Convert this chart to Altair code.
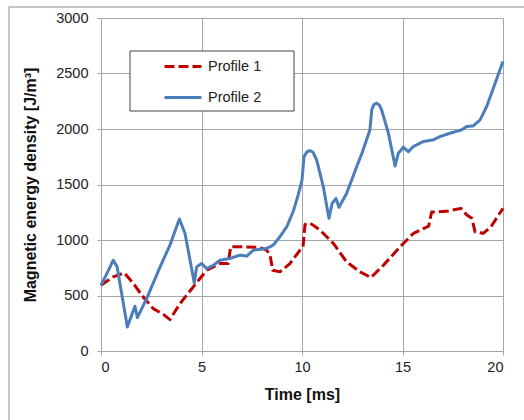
import altair as alt
import pandas as pd

# Profile 1 (red dashed)
t1 = [0, 0.61, 1.16, 1.61, 2.1, 2.6, 3.1, 3.43, 3.93, 4.59, 5.26, 5.92, 6.33, 6.45, 6.92, 7.91,
      8.24, 8.41, 8.54, 8.9, 9.4, 9.9, 10.05, 10.15, 10.4, 10.9, 11.56, 12.22, 12.89, 13.43,
      14.05, 14.88, 15.54, 16.3, 16.45, 17.19, 17.91, 18.2, 18.45, 18.61, 19.02, 19.4, 20]
v1 = [593, 668, 704, 608, 487, 382, 330, 283, 427, 578, 728, 788, 788, 939, 939, 933,
      909, 864, 728, 713, 788, 909, 939, 1140, 1152, 1089, 969, 803, 713, 662,
      773, 939, 1059, 1125, 1252, 1258, 1285, 1225, 1195, 1074, 1060, 1119, 1285]

# Profile 2 (blue solid)
t2 = [0, 0.3, 0.61, 0.8, 1.31, 1.69, 1.81, 2.27, 2.94, 3.43, 3.9, 4.18, 4.64, 4.76, 5.0, 5.26, 5.6,
      5.92, 6.42, 6.92, 7.25, 7.58, 8.24, 8.57, 8.9, 9.24, 9.57, 9.8, 10.0, 10.1, 10.25, 10.4, 10.55,
      10.73, 11.06, 11.34, 11.5, 11.69, 11.84, 12.22, 12.72, 13.0, 13.38, 13.47, 13.58, 13.71,
      13.85, 13.96, 14.3, 14.63, 14.79, 15.04, 15.29, 15.54, 16.03, 16.53, 16.87, 17.36, 17.94,
      18.19, 18.52, 18.86, 19.19, 19.52, 20]
v2 = [593, 700, 818, 760, 217, 403, 301, 472, 758, 954, 1189, 1059, 614, 758, 788, 743, 773,
      818, 834, 864, 855, 909, 924, 954, 1029, 1119, 1260, 1400, 1540, 1751, 1795, 1805, 1790,
      1721, 1481, 1195, 1330, 1375, 1294, 1420, 1660, 1790, 1992, 2173, 2220, 2233,
      2215, 2173, 1962, 1667, 1781, 1836, 1796, 1842, 1887, 1902, 1932, 1962, 1992,
      2022, 2028, 2082, 2203, 2368, 2609]

series = ["Profile 1", "Profile 2"]
colors = ["#C00000", "#4A7EBB"]

df = pd.DataFrame({
    "t": t1 + t2,
    "v": v1 + v2,
    "s": [series[0]] * len(t1) + [series[1]] * len(t2),
    "o": list(range(len(t1))) + list(range(len(t2))),
})

FONT = "Liberation Sans"
W, H = 402, 333

legend_opts = dict(title=None, orient="none", legendX=62, legendY=41,
                   symbolType="stroke", symbolSize=1369,
                   symbolStrokeWidth=3, labelOffset=5,
                   rowPadding=15, clipHeight=15, padding=0,
                   labelFontSize=14.5, labelFont=FONT, labelColor="#222222")

lines = alt.Chart(df).mark_line(strokeWidth=3, strokeJoin="round").encode(
    x=alt.X("t:Q", scale=alt.Scale(domain=[0, 20], nice=False),
            axis=alt.Axis(values=[0, 5, 10, 15, 20], title="Time [ms]", format="d",
                          titleX=W / 2, titleY=43, titleBaseline="middle")),
    y=alt.Y("v:Q", scale=alt.Scale(domain=[0, 3000], nice=False),
            axis=alt.Axis(values=[0, 500, 1000, 1500, 2000, 2500, 3000], format="d",
                          title="Magnetic energy density [J/m³]",
                          titleX=-71, titleY=H / 2, titleAngle=-90,
                          titleAlign="center", titleBaseline="middle")),
    order="o:Q",
    color=alt.Color("s:N", scale=alt.Scale(domain=series, range=colors),
                    legend=alt.Legend(**legend_opts)),
    strokeDash=alt.StrokeDash("s:N", scale=alt.Scale(domain=series, range=[[10, 4], [1, 0]]),
                              legend=alt.Legend(**legend_opts)),
)

box_df = pd.DataFrame({"k": [0]})
legend_box = alt.Chart(box_df).mark_rect(fill="white", stroke="#444444", strokeWidth=1).encode(
    x=alt.value(29), x2=alt.value(193), y=alt.value(33), y2=alt.value(93)
)

border_top = alt.Chart(box_df).mark_rule(color="#8c8c8c", strokeWidth=1).encode(
    x=alt.value(-92), x2=alt.value(430), y=alt.value(-11)
)
border_left = alt.Chart(box_df).mark_rule(color="#8c8c8c", strokeWidth=1).encode(
    x=alt.value(-92), y=alt.value(-11), y2=alt.value(410)
)

chart = alt.layer(border_top, border_left, legend_box, lines).properties(
    width=W, height=H,
    autosize=alt.AutoSizeParams(type="none"),
    padding={"left": 101, "top": 18, "right": 21, "bottom": 69},
).configure_view(stroke=None).configure_axis(
    grid=True, gridColor="#A6A6A6", gridWidth=1,
    domainColor="#A6A6A6", tickColor="#A6A6A6", tickSize=4,
    labelFont=FONT, labelFontSize=14.5, labelColor="#222222",
    titleFont=FONT, titleFontSize=16, titleFontWeight="bold", titleColor="#111111",
).configure_axisY(labelPadding=9).configure_axisX(labelPadding=5)

chart.save("out.html", embed_options={"renderer": "svg", "actions": False})
